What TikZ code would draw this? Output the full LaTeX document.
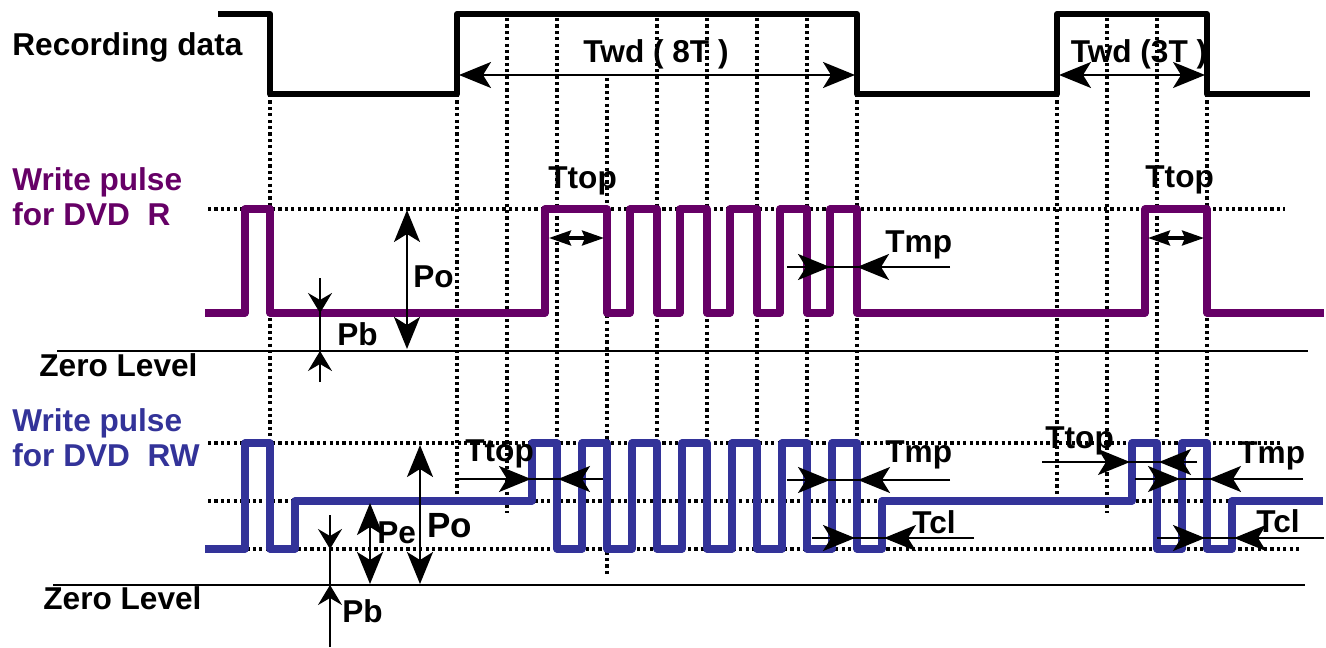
\documentclass[tikz,border=0pt]{standalone}
\usepackage{fontspec}
\setmainfont{Liberation Sans}
\usetikzlibrary{arrows.meta}
\definecolor{rpurple}{RGB}{102,0,102}
\definecolor{rwblue}{RGB}{51,51,153}
\tikzset{
    bigtip/.tip={Stealth[length=16pt, width=13pt, inset=4pt]},
    smalltip/.tip={Stealth[length=11pt, width=7.5pt, inset=1.5pt]},
    pbtip/.tip={Stealth[length=10pt, width=12pt, inset=3.5pt]},
}

\begin{document}
\begin{tikzpicture}[x=0.5pt, y=-0.5pt,
    lbl/.style={font=\fontsize{15.8}{17.5}\selectfont\bfseries, inner sep=0pt, anchor=base west},
    guide/.style={line width=1.6pt, dash pattern=on 1.6pt off 1.6pt},
    zeroline/.style={line width=1.2pt},
    dim/.style={line width=1.1pt},
    wave/.style={line width=3.6pt, line join=round}]
    \useasboundingbox (0,0) rectangle (1326,647);

    % time grid
    \draw[guide] (270,94) -- (270,549);
    \draw[guide] (457,94) -- (457,495);
    \draw[guide] (507,18) -- (507,513);
    \draw[guide] (607,78) -- (607,575);
    \foreach \x in {557,657,707,757,807} \draw[guide] (\x,18) -- (\x,443);
    \draw[guide] (857,94) -- (857,443);
    \draw[guide] (1057,94) -- (1057,495);
    \draw[guide] (1107,18) -- (1107,513);
    \draw[guide] (1157,18) -- (1157,443);
    \draw[guide] (1207,94) -- (1207,443);
    \draw[guide] (208,209) -- (1285,209);
    \draw[guide] (208,443) -- (1283,443);
    \draw[guide] (208,501) -- (1283,501);
    \draw[guide] (208,549) -- (1302,549);

    % recording data
    \draw[line width=3pt, line join=round] (218,14) -- (270,14) -- (270,94) -- (457,94) -- (457,14) -- (857,14) -- (857,94)
        -- (1057,94) -- (1057,14) -- (1207,14) -- (1207,94) -- (1310,94);
    \node[lbl] (rec) at (12,56) {Recording data};
    \node[lbl, anchor=base] (twd8) at (656,63) {Twd ( 8T )};
    \node[lbl, anchor=base] (twd3) at (1139,63) {Twd (3T )};
    \draw[dim, bigtip-bigtip] (459,75) -- (855,75);
    \draw[dim, bigtip-bigtip] (1059,75) -- (1205,75);

    % DVD-R
    \draw[zeroline] (57,351) -- (1308,351);
    \draw[wave, rpurple] (205,313) -- (245,313) -- (245,209) -- (270,209) -- (270,313) -- (545,313) -- (545,209) -- (607,209) -- (607,313)
        foreach \x in {630,680,...,830} { -- (\x,313) -- (\x,209) -- (\x+27,209) -- (\x+27,313) }
        -- (1145,313) -- (1145,209) -- (1207,209) -- (1207,313) -- (1324,313);
    \node[lbl, rpurple, align=left, anchor=north west] (rlbl) at (12,167) {Write pulse\\for DVD\ \ R};
    \node[lbl] (rzero) at (39,376) {Zero Level};
    \draw[line width=1.6pt, smalltip-smalltip] (549,238) -- (604,238);
    \draw[line width=1.6pt, smalltip-smalltip] (1148,238) -- (1204,238);
    \node[lbl] (rttop8) at (548,188) {Ttop};
    \node[lbl] (rttop3) at (1145,187) {Ttop};
    \draw[dim] (787,267) -- (950,267);
    \draw[dim, -bigtip] (787,267) -- (830,267);
    \draw[dim, -bigtip] (950,267) -- (857,267);
    \node[lbl] (rtmp) at (885,252) {Tmp};
    \draw[dim, bigtip-bigtip] (407,210) -- (407,349);
    \node[lbl] (rpo) at (413,287) {Po};
    \draw[dim] (320,278) -- (320,382);
    \draw[dim, -pbtip] (320,278) -- (320,313);
    \draw[dim, -pbtip] (320,382) -- (320,351);
    \node[lbl] (rpb) at (337,345) {Pb};

    % DVD-RW
    \draw[zeroline] (53,585) -- (1305,585);
    \draw[wave, rwblue] (205,549) -- (245,549) -- (245,443) -- (270,443) -- (270,549) -- (295,549) -- (295,501) -- (532,501)
        foreach \x in {532,582,...,832} { -- (\x,443) -- (\x+25,443) -- (\x+25,549) -- (\x+50,549) }
        -- (882,501) -- (1132,501)
        foreach \x in {1132,1182} { -- (\x,443) -- (\x+25,443) -- (\x+25,549) -- (\x+50,549) }
        -- (1232,501) -- (1323,501);
    \node[lbl, rwblue, align=left, anchor=north west] (rwlbl) at (12,408) {Write pulse\\for DVD\ \ RW};
    \node[lbl] (rwzero) at (43,609) {Zero Level};
    \draw[dim] (457,479) -- (603,479);
    \draw[dim, -bigtip] (457,479) -- (531,479);
    \draw[dim, -bigtip] (603,479) -- (558,479);
    \node[lbl] (rwttop8) at (465,461) {Ttop};
    \draw[dim] (787,480) -- (950,480);
    \draw[dim, -bigtip] (787,480) -- (830,480);
    \draw[dim, -bigtip] (950,480) -- (858,480);
    \node[lbl] (rwtmp8) at (885,462) {Tmp};
    \draw[dim] (812,538) -- (974,538);
    \draw[dim, -bigtip] (812,538) -- (855,538);
    \draw[dim, -bigtip] (974,538) -- (884,538);
    \node[lbl] (rwtcl8) at (912,533) {Tcl};
    \draw[dim] (1042,462) -- (1197,462);
    \draw[dim, -bigtip] (1042,462) -- (1130,462);
    \draw[dim, -bigtip] (1197,462) -- (1159,462);
    \node[lbl] (rwttop3) at (1045,448) {Ttop};
    \draw[dim] (1135,479) -- (1303,479);
    \draw[dim, -bigtip] (1135,479) -- (1180,479);
    \draw[dim, -bigtip] (1303,479) -- (1209,479);
    \node[lbl] (rwtmp3) at (1238,463) {Tmp};
    \draw[dim] (1157,538) -- (1324,538);
    \draw[dim, -bigtip] (1157,538) -- (1205,538);
    \draw[dim, -bigtip] (1324,538) -- (1234,538);
    \node[lbl] (rwtcl3) at (1256,532) {Tcl};
    \draw[dim, bigtip-bigtip] (420,445) -- (420,584);
    \node[lbl, font=\fontsize{17.5}{20}\selectfont\bfseries] (rwpo) at (427,537) {Po};
    \draw[dim, bigtip-bigtip] (370,503) -- (370,584);
    \node[lbl] (rwpe) at (377,543) {Pe};
    \draw[dim] (330,515) -- (330,647);
    \draw[dim, -pbtip] (330,515) -- (330,549);
    \draw[dim, -pbtip] (330,647) -- (330,585);
    \node[lbl] (rwpb) at (342,622) {Pb};
\end{tikzpicture}
\end{document}
